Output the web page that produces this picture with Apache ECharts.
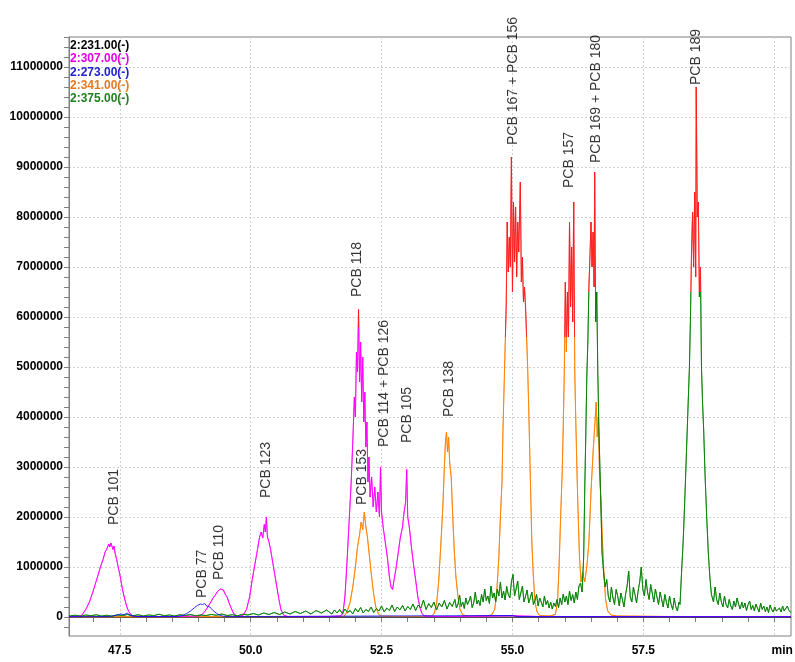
<!DOCTYPE html>
<html>
<head>
    <meta charset="utf-8">
    <title>PCB chromatogram</title>
    <style type="text/css">
        html,
        body {
            margin: 0;
            padding: 0;
            background: #fff;
        }

        #main {
            width: 795px;
            height: 662px;
        }
    </style>
</head>

<body>
    <div id="main"></div>
    <script src="https://cdn.jsdelivr.net/npm/echarts@6/dist/echarts.min.js"></script>
    <script type="text/javascript">
        // ion traces, [retention time (min), abundance]
        var ion231 = [[46.53, 0], [60.32, 0]];

        var ion307 = [
            [46.53, 10000], [46.70, 15000], [46.78, 40000], [46.85, 150000], [46.92, 300000], [46.98, 480000],
            [47.03, 650000], [47.08, 820000], [47.13, 1000000], [47.18, 1150000], [47.22, 1300000], [47.26, 1380000],
            [47.29, 1460000], [47.31, 1400000], [47.33, 1480000], [47.35, 1440000], [47.37, 1350000], [47.39, 1420000],
            [47.41, 1280000], [47.44, 1150000], [47.47, 1000000], [47.51, 800000], [47.55, 560000], [47.59, 380000],
            [47.63, 220000], [47.67, 110000], [47.72, 40000], [47.78, 15000], [48.00, 10000], [48.50, 10000],
            [49.00, 20000], [49.05, 30000], [49.12, 100000], [49.18, 200000], [49.24, 300000], [49.28, 380000],
            [49.32, 430000], [49.36, 500000], [49.39, 470000], [49.42, 560000], [49.45, 520000], [49.48, 540000],
            [49.51, 460000], [49.55, 400000], [49.58, 300000], [49.62, 200000], [49.66, 100000], [49.70, 40000],
            [49.75, 15000], [49.80, 20000], [49.85, 30000], [49.92, 150000], [49.98, 400000], [50.03, 750000],
            [50.08, 1050000], [50.13, 1350000], [50.17, 1600000], [50.20, 1700000], [50.23, 1580000], [50.26, 1850000],
            [50.28, 1700000], [50.30, 2000000], [50.32, 1600000], [50.35, 1500000], [50.38, 1350000], [50.42, 1100000],
            [50.46, 850000], [50.50, 600000], [50.54, 350000], [50.58, 140000], [50.63, 40000], [50.70, 10000],
            [51.00, 10000], [51.50, 10000], [51.70, 20000], [51.76, 60000], [51.80, 400000], [51.84, 1100000],
            [51.88, 1900000], [51.92, 2700000], [51.95, 3500000], [51.98, 4400000], [52.00, 4000000], [52.02, 5300000],
            [52.04, 4900000], [52.06, 6150000], [52.08, 4700000], [52.10, 5500000], [52.12, 4300000], [52.14, 5200000],
            [52.16, 3900000], [52.18, 4500000], [52.20, 3400000], [52.22, 3900000], [52.24, 2700000], [52.26, 3200000],
            [52.28, 2400000], [52.31, 2800000], [52.34, 2200000], [52.37, 2600000], [52.40, 2100000], [52.43, 2500000],
            [52.46, 2000000], [52.48, 3000000], [52.50, 2100000], [52.53, 1800000], [52.57, 1500000], [52.61, 1200000],
            [52.65, 800000], [52.68, 600000], [52.71, 550000], [52.74, 750000], [52.78, 1000000], [52.82, 1300000],
            [52.86, 1600000], [52.90, 1800000], [52.93, 2100000], [52.96, 2300000], [52.98, 2950000], [53.00, 2000000],
            [53.03, 1800000], [53.07, 1400000], [53.11, 1050000], [53.15, 750000], [53.19, 420000], [53.23, 200000],
            [53.27, 70000], [53.32, 20000], [53.50, 10000], [54.00, 10000], [55.00, 25000], [55.50, 10000], [60.32, 10000]
        ];

        var ion273 = [
            [46.53, 5000], [47.30, 10000], [47.45, 40000], [47.52, 60000], [47.58, 45000], [47.64, 80000],
            [47.70, 30000], [47.80, 10000], [48.60, 10000], [48.70, 30000], [48.78, 70000], [48.85, 120000],
            [48.92, 180000], [48.98, 230000], [49.04, 260000], [49.08, 250000], [49.12, 270000], [49.16, 220000],
            [49.22, 200000], [49.28, 130000], [49.34, 80000], [49.40, 40000], [49.48, 15000], [49.60, 8000],
            [55.00, 30000], [55.10, 8000], [60.32, 5000]
        ];

        var ion341 = [
            [46.53, 5000], [51.78, 10000], [51.84, 100000], [51.90, 300000], [51.95, 600000], [52.00, 1000000],
            [52.04, 1400000], [52.08, 1650000], [52.11, 1900000], [52.14, 1750000], [52.17, 2100000], [52.20, 1800000],
            [52.23, 1600000], [52.27, 1200000], [52.31, 800000], [52.35, 450000], [52.39, 200000], [52.44, 60000],
            [52.50, 15000], [53.00, 10000], [53.45, 15000], [53.50, 60000], [53.55, 250000], [53.59, 700000],
            [53.63, 1400000], [53.67, 2200000], [53.70, 3000000], [53.72, 3500000], [53.74, 3700000], [53.76, 3300000],
            [53.78, 3600000], [53.80, 3100000], [53.83, 2800000], [53.86, 2000000], [53.89, 1300000], [53.92, 800000],
            [53.96, 400000], [54.00, 150000], [54.05, 40000], [54.15, 15000], [54.50, 20000], [54.60, 40000],
            [54.66, 150000], [54.70, 500000], [54.74, 1200000], [54.77, 2000000], [54.80, 2700000], [54.82, 3800000],
            [54.84, 4600000], [54.86, 5400000], [54.88, 6200000], [54.90, 7900000], [54.92, 6900000], [54.94, 7600000],
            [54.96, 7000000], [54.98, 9200000], [55.00, 6500000], [55.02, 8300000], [55.04, 7100000], [55.06, 8200000],
            [55.08, 6800000], [55.10, 7900000], [55.12, 7300000], [55.15, 8700000], [55.17, 6700000], [55.19, 7200000],
            [55.21, 6300000], [55.23, 6600000], [55.25, 6200000], [55.27, 5600000], [55.29, 5000000], [55.31, 4200000],
            [55.33, 3300000], [55.35, 2400000], [55.37, 1500000], [55.40, 800000], [55.43, 300000], [55.47, 100000],
            [55.52, 30000], [55.70, 20000], [55.82, 50000], [55.86, 300000], [55.89, 1000000], [55.92, 2000000],
            [55.95, 2900000], [55.97, 3800000], [55.99, 4900000], [56.01, 6700000], [56.03, 5300000], [56.05, 6500000],
            [56.07, 5600000], [56.09, 7900000], [56.11, 6200000], [56.13, 7400000], [56.15, 5900000], [56.17, 8300000],
            [56.19, 4900000], [56.21, 3900000], [56.23, 3000000], [56.25, 2200000], [56.28, 1200000], [56.31, 700000],
            [56.34, 900000], [56.38, 700000], [56.42, 1000000], [56.46, 1500000], [56.50, 2500000], [56.54, 3300000],
            [56.57, 3800000], [56.60, 4300000], [56.62, 3600000], [56.64, 4000000], [56.66, 3000000], [56.69, 2300000],
            [56.72, 1500000], [56.75, 800000], [56.78, 340000], [56.82, 120000], [56.88, 40000], [57.00, 20000],
            [57.50, 15000], [58.00, 10000], [60.32, 10000]
        ];

        var ion375 = [
            [46.53, 20000], [46.65, 35000], [46.75, 15000], [46.85, 40000], [46.95, 25000], [47.05, 45000],
            [47.15, 20000], [47.25, 35000], [47.35, 15000], [47.45, 40000], [47.55, 30000], [47.65, 50000],
            [47.75, 25000], [47.85, 45000], [47.95, 20000], [48.05, 40000], [48.15, 30000], [48.25, 55000],
            [48.35, 25000], [48.45, 40000], [48.55, 20000], [48.65, 45000], [48.75, 30000], [48.85, 50000],
            [48.95, 25000], [49.05, 40000], [49.15, 30000], [49.25, 50000], [49.35, 35000], [49.45, 60000],
            [49.55, 30000], [49.65, 45000], [49.75, 25000], [49.85, 55000], [49.95, 40000], [50.05, 70000],
            [50.15, 40000], [50.25, 80000], [50.35, 50000], [50.45, 90000], [50.55, 50000], [50.65, 100000],
            [50.75, 60000], [50.85, 110000], [50.95, 70000], [51.05, 120000], [51.15, 60000], [51.25, 130000],
            [51.35, 80000], [51.45, 140000], [51.50, 100000], [51.55, 60000], [51.60, 140000], [51.65, 80000],
            [51.70, 150000], [51.75, 70000], [51.80, 160000], [51.85, 90000], [51.90, 130000], [51.95, 60000],
            [52.00, 170000], [52.05, 100000], [52.10, 190000], [52.15, 80000], [52.20, 150000], [52.25, 110000],
            [52.30, 200000], [52.35, 90000], [52.40, 170000], [52.45, 120000], [52.50, 220000], [52.55, 100000],
            [52.60, 180000], [52.65, 130000], [52.70, 240000], [52.75, 110000], [52.80, 200000], [52.85, 140000],
            [52.90, 230000], [52.95, 120000], [53.00, 210000], [53.05, 150000], [53.10, 260000], [53.15, 130000],
            [53.20, 240000], [53.25, 180000], [53.30, 340000], [53.35, 150000], [53.40, 270000], [53.45, 190000],
            [53.50, 300000], [53.55, 140000], [53.60, 280000], [53.65, 200000], [53.70, 330000], [53.75, 160000],
            [53.80, 290000], [53.85, 210000], [53.90, 350000], [53.93, 180000], [53.96, 260000], [53.99, 440000],
            [54.02, 210000], [54.05, 300000], [54.08, 170000], [54.11, 380000], [54.14, 250000], [54.17, 320000],
            [54.20, 420000], [54.23, 190000], [54.26, 280000], [54.29, 500000], [54.32, 260000], [54.35, 340000],
            [54.38, 230000], [54.41, 450000], [54.44, 300000], [54.47, 560000], [54.50, 330000], [54.53, 420000],
            [54.56, 270000], [54.59, 620000], [54.62, 380000], [54.65, 480000], [54.68, 300000], [54.71, 560000],
            [54.74, 420000], [54.77, 700000], [54.80, 380000], [54.83, 520000], [54.86, 340000], [54.89, 610000],
            [54.92, 450000], [54.95, 380000], [54.98, 700000], [55.01, 850000], [55.04, 420000], [55.07, 560000],
            [55.10, 720000], [55.13, 350000], [55.16, 480000], [55.19, 620000], [55.22, 300000], [55.25, 420000],
            [55.28, 540000], [55.31, 280000], [55.34, 380000], [55.37, 500000], [55.40, 250000], [55.43, 330000],
            [55.46, 450000], [55.49, 220000], [55.52, 380000], [55.55, 300000], [55.58, 200000], [55.61, 420000],
            [55.64, 250000], [55.67, 330000], [55.70, 180000], [55.73, 300000], [55.76, 160000], [55.79, 280000],
            [55.82, 210000], [55.85, 350000], [55.88, 190000], [55.91, 380000], [55.94, 250000], [55.97, 460000],
            [56.00, 300000], [56.03, 420000], [56.06, 250000], [56.09, 520000], [56.12, 330000], [56.15, 450000],
            [56.18, 280000], [56.21, 500000], [56.24, 350000], [56.27, 620000], [56.30, 680000], [56.33, 500000],
            [56.36, 1200000], [56.38, 2500000], [56.40, 3600000], [56.42, 4800000], [56.44, 5500000], [56.46, 6600000],
            [56.48, 7200000], [56.50, 7900000], [56.52, 7000000], [56.54, 7700000], [56.56, 6600000], [56.57, 8900000],
            [56.59, 5900000], [56.61, 6500000], [56.63, 4900000], [56.65, 3800000], [56.67, 3000000], [56.69, 2200000],
            [56.71, 1300000], [56.74, 900000], [56.77, 600000], [56.80, 750000], [56.83, 420000], [56.86, 300000],
            [56.89, 600000], [56.92, 380000], [56.95, 250000], [56.98, 550000], [57.01, 420000], [57.04, 220000],
            [57.07, 480000], [57.10, 350000], [57.13, 200000], [57.16, 450000], [57.19, 620000], [57.22, 920000],
            [57.25, 400000], [57.28, 300000], [57.31, 600000], [57.34, 450000], [57.37, 280000], [57.40, 520000],
            [57.43, 700000], [57.46, 1000000], [57.49, 550000], [57.52, 420000], [57.55, 750000], [57.58, 500000],
            [57.61, 350000], [57.64, 650000], [57.67, 480000], [57.70, 300000], [57.73, 560000], [57.76, 400000],
            [57.79, 250000], [57.82, 500000], [57.85, 350000], [57.88, 200000], [57.91, 450000], [57.94, 300000],
            [57.97, 180000], [58.00, 420000], [58.03, 250000], [58.06, 150000], [58.09, 380000], [58.12, 200000],
            [58.15, 120000], [58.18, 300000], [58.20, 250000], [58.23, 900000], [58.26, 1500000], [58.29, 2300000],
            [58.32, 3200000], [58.35, 4100000], [58.38, 5000000], [58.40, 6000000], [58.42, 7300000], [58.44, 8100000],
            [58.46, 7000000], [58.48, 8500000], [58.50, 6800000], [58.51, 10600000], [58.53, 8000000], [58.55, 8300000],
            [58.57, 6400000], [58.59, 7000000], [58.61, 5000000], [58.63, 4300000], [58.65, 3800000], [58.68, 2800000],
            [58.71, 2000000], [58.74, 1300000], [58.77, 800000], [58.80, 450000], [58.84, 300000], [58.87, 600000],
            [58.90, 350000], [58.93, 250000], [58.96, 480000], [58.99, 300000], [59.02, 200000], [59.05, 420000],
            [59.08, 250000], [59.11, 180000], [59.14, 350000], [59.17, 220000], [59.20, 150000], [59.23, 320000],
            [59.26, 200000], [59.29, 380000], [59.32, 250000], [59.35, 160000], [59.38, 300000], [59.41, 180000],
            [59.44, 280000], [59.47, 130000], [59.50, 250000], [59.53, 320000], [59.56, 150000], [59.59, 230000],
            [59.62, 120000], [59.65, 260000], [59.68, 180000], [59.71, 100000], [59.74, 280000], [59.77, 150000],
            [59.80, 220000], [59.83, 110000], [59.86, 200000], [59.89, 90000], [59.92, 240000], [59.95, 150000],
            [59.98, 100000], [60.01, 200000], [60.04, 120000], [60.07, 80000], [60.10, 180000], [60.13, 100000],
            [60.16, 220000], [60.19, 120000], [60.22, 80000], [60.25, 220000], [60.28, 130000], [60.32, 90000]
        ];

        // peak annotations: [time, abundance at text start, name]
        var peakLabels = [
            [47.40, 1840000, 'PCB 101'],
            [49.08, 380000, 'PCB 77'],
            [49.39, 740000, 'PCB 110'],
            [50.29, 2380000, 'PCB 123'],
            [52.03, 6400000, 'PCB 118'],
            [52.12, 2240000, 'PCB 153'],
            [52.54, 3400000, 'PCB 114 + PCB 126'],
            [52.98, 3480000, 'PCB 105'],
            [53.80, 4000000, 'PCB 138'],
            [55.01, 9440000, 'PCB 167 + PCB 156'],
            [56.09, 8580000, 'PCB 157'],
            [56.60, 9080000, 'PCB 169 + PCB 180'],
            [58.51, 10640000, 'PCB 189']
        ];

        var xLabels = [47.5, 50.0, 52.5, 55.0, 57.5, 60.0];
        var yLabels = [0, 1000000, 2000000, 3000000, 4000000, 5000000, 6000000,
            7000000, 8000000, 9000000, 10000000, 11000000];

        var xTicks = [];
        for (var tx = 47; tx <= 60.001; tx += 0.5) xTicks.push(+tx.toFixed(1));
        var yTicks = [];
        for (var ty = -200000; ty <= 11600000; ty += 200000) yTicks.push(ty);

        var FONT = 'Liberation Sans, Arial, sans-serif';
        var X_MIN = 46.53, X_MAX = 60.32, Y_MIN = -380000, Y_MAX = 11600000;
        var AXIS_GRAY = '#808080';
        var RED = '#ff1a1a';

        var traces = [
            { name: '2:231.00(-)', data: ion231, color: '#000000', redAbove: null },
            { name: '2:341.00(-)', data: ion341, color: '#ff8000', redAbove: 5600000 },
            { name: '2:307.00(-)', data: ion307, color: '#ff00ff', redAbove: 5800000 },
            { name: '2:375.00(-)', data: ion375, color: '#008000', redAbove: 6500000 },
            { name: '2:273.00(-)', data: ion273, color: '#0000ff', redAbove: null }
        ];

        var myChart = echarts.init(document.getElementById('main'));
        myChart.setOption({
            backgroundColor: '#fff',
            animation: false,
            textStyle: { fontFamily: FONT },
            grid: {
                left: 69,
                right: 4,
                top: 37,
                bottom: 26,
                show: true,
                borderColor: AXIS_GRAY,
                borderWidth: 1,
                outerBoundsMode: 'none'
            },
            legend: {
                orient: 'vertical',
                left: 65,
                top: 39,
                padding: 0,
                itemGap: 0,
                itemWidth: 0,
                itemHeight: 13.3,
                icon: 'none',
                selectedMode: false,
                textStyle: { fontSize: 12, fontWeight: 'bold', fontFamily: FONT, lineHeight: 13.3 },
                data: [
                    { name: '2:231.00(-)', textStyle: { color: '#000000' } },
                    { name: '2:307.00(-)', textStyle: { color: '#e600e6' } },
                    { name: '2:273.00(-)', textStyle: { color: '#2020d0' } },
                    { name: '2:341.00(-)', textStyle: { color: '#e67a1e' } },
                    { name: '2:375.00(-)', textStyle: { color: '#1f7f1f' } }
                ]
            },
            xAxis: [{
                type: 'value',
                min: X_MIN,
                max: X_MAX,
                axisLine: { show: true, lineStyle: { color: AXIS_GRAY } },
                axisTick: { show: true, length: 5, customValues: xTicks, lineStyle: { color: AXIS_GRAY } },
                axisLabel: {
                    customValues: xLabels,
                    margin: 9,
                    color: '#000',
                    fontSize: 12,
                    fontWeight: 'bold',
                    fontFamily: FONT,
                    formatter: function (v) {
                        return v > 59.9 ? '{m|min}' : v.toFixed(1);
                    },
                    rich: {
                        m: { padding: [0, 0, 0, 16], color: '#000', fontSize: 12, fontWeight: 'bold', fontFamily: FONT }
                    }
                },
                splitLine: { show: false }
            }, {
                type: 'value',
                min: X_MIN,
                max: X_MAX,
                position: 'bottom',
                axisLine: { show: false },
                axisTick: { show: false, customValues: xLabels },
                axisLabel: { show: false },
                splitLine: { show: true, lineStyle: { color: '#d2d2d2', type: [2, 2] } }
            }],
            yAxis: [{
                type: 'value',
                min: Y_MIN,
                max: Y_MAX,
                axisLine: { show: true, lineStyle: { color: AXIS_GRAY } },
                axisTick: { show: true, length: 5, customValues: yTicks, lineStyle: { color: AXIS_GRAY } },
                axisLabel: {
                    customValues: yLabels,
                    margin: 6,
                    color: '#000',
                    fontSize: 12,
                    fontWeight: 'bold',
                    fontFamily: FONT,
                    formatter: function (v) { return String(v); }
                },
                splitLine: { show: false }
            }, {
                type: 'value',
                min: Y_MIN,
                max: Y_MAX,
                position: 'left',
                axisLine: { show: false },
                axisTick: { show: false, customValues: yLabels },
                axisLabel: { show: false },
                splitLine: { show: true, lineStyle: { color: '#d2d2d2', type: [2, 2] } }
            }],
            series: traces.map(function (t) {
                return {
                    name: t.name,
                    type: 'line',
                    data: t.data,
                    symbol: 'none',
                    showSymbol: false,
                    color: t.color,
                    lineStyle: { width: 1, opacity: 0.8 },
                    animation: false
                };
            }).concat([{
                name: 'labels',
                type: 'scatter',
                data: peakLabels,
                symbolSize: 1,
                itemStyle: { color: 'rgba(0,0,0,0)' },
                silent: true,
                z: 10,
                animation: false,
                label: {
                    show: true,
                    position: 'inside',
                    align: 'left',
                    verticalAlign: 'middle',
                    rotate: 90,
                    color: '#000',
                    fontSize: 14,
                    fontFamily: FONT,
                    formatter: function (p) { return p.data[2]; }
                }
            }])
        });

        // the tops of the big peaks are drawn red: a vertical gradient
        // split at the abundance where the red starts, placed through the y axis
        var yTop = myChart.convertToPixel({ yAxisIndex: 0 }, Y_MAX);
        var yBottom = myChart.convertToPixel({ yAxisIndex: 0 }, Y_MIN);
        myChart.setOption({
            series: traces.map(function (t) {
                if (t.redAbove === null) return {};
                var yCut = myChart.convertToPixel({ yAxisIndex: 0 }, t.redAbove);
                var f = (yCut - yTop) / (yBottom - yTop);
                return {
                    lineStyle: {
                        color: new echarts.graphic.LinearGradient(0, yTop, 0, yBottom, [
                            { offset: 0, color: RED },
                            { offset: f, color: RED },
                            { offset: f, color: t.color },
                            { offset: 1, color: t.color }
                        ], true)
                    }
                };
            })
        });
    </script>
</body>

</html>
